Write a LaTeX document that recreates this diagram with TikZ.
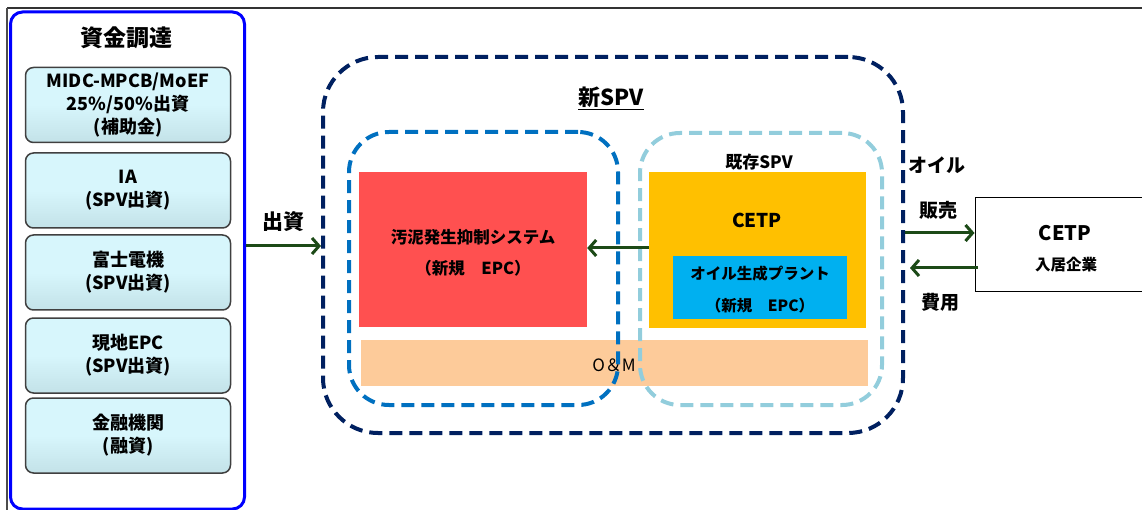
\documentclass[tikz,border=0pt]{standalone}
\usepackage{fontspec}
\setmainfont{Noto Sans CJK JP}
\usetikzlibrary{arrows.meta}
\definecolor{navy}{HTML}{002060}
\definecolor{mblue}{HTML}{0070C0}
\definecolor{tealb}{HTML}{92CDDC}
\definecolor{redb}{HTML}{FF5050}
\definecolor{orangeb}{HTML}{FFC000}
\definecolor{cyanb}{HTML}{00B0F0}
\definecolor{peach}{HTML}{FDCB9A}
\definecolor{cyanlt}{HTML}{D7F6FC}
\definecolor{cyanshade}{HTML}{C3E2E8}
\definecolor{agreen}{HTML}{1C4A17}
\definecolor{frameblue}{HTML}{0000FF}
\begin{document}
\begin{tikzpicture}[x=1pt,y=-1pt,
  fs/.style 2 args={font=\bfseries\fontsize{#1}{#2}\selectfont},
  lbl/.style={inner sep=0pt, align=center},
  srcbox/.style={draw=black!75, line width=1.5pt, rounded corners=8pt,
    top color=cyanlt, bottom color=cyanshade, middle color=cyanlt,
    minimum width=205pt, minimum height=75pt, align=center, inner sep=0pt,
    fs={18}{23}},
  fillbox/.style={inner sep=0pt, draw=none},
  dashbox/.style={line width=4pt, rounded corners=#1, dash pattern=on 13pt off 7pt, inner sep=0pt},
  arr/.style={draw=agreen, line width=3pt, -{Straight Barb[length=7pt,width=16pt]}},
]
\useasboundingbox (0,0) rectangle (1142,510);
% frame lines
\draw[line width=2pt, black!80] (7,8) -- (1142,8);
\draw[line width=1.5pt, black!70] (7,8) -- (7,512);

% funding side
\node[draw=frameblue, line width=3pt, rounded corners=12pt, minimum width=234pt, minimum height=497pt, inner sep=0pt] (fund) at (127.5,260.5) {};
\node[lbl, fs={23}{27}] (fundt) at (126,38) {資金調達};
\node[srcbox] (src1) at (128,105) {MIDC-MPCB/MoEF\\25\%/50\%出資\\(補助金)};
\node[srcbox] (src2) at (128,190.5) {IA\\(SPV出資)};
\node[srcbox] (src3) at (128,272.5) {富士電機\\(SPV出資)};
\node[srcbox] (src4) at (128,355.5) {現地EPC\\(SPV出資)};
\node[srcbox] (src5) at (128,435.5) {金融機関\\(融資)};

% filled boxes
\node[fillbox, fill=peach, minimum width=507pt, minimum height=46pt] (om) at (614.5,363) {};
\node[fillbox, fill=redb, minimum width=228pt, minimum height=155pt] (red) at (473,249.5) {};
\node[fillbox, fill=orangeb, minimum width=217pt, minimum height=156pt] (orange) at (757.5,250) {};
\node[fillbox, fill=cyanb, minimum width=174pt, minimum height=63pt] (plant) at (760,287.5) {};

% dashed containers
\node[dashbox=55pt, draw=navy, minimum width=580pt, minimum height=376pt] (spv) at (613,245) {};
\node[dashbox=40pt, draw=mblue, minimum width=269pt, minimum height=273pt] (newbox) at (483.5,268.5) {};
\node[dashbox=40pt, draw=tealb, minimum width=242pt, minimum height=272pt] (oldbox) at (761,269) {};

% texts
\node[lbl, fs={22}{26}] (spvt) at (611,98) {\underline{新SPV}};
\node[lbl, fs={17}{20}] (oldt) at (759,162) {既存SPV};
\node[lbl, fs={16.5}{31}] (redt) at (473,253) {汚泥発生抑制システム\\（新規　EPC）};
\node[lbl, fs={19}{22}] (cetpt) at (757,220) {CETP};
\node[lbl, fs={15.5}{32}] (plantt) at (760,290) {オイル生成プラント\\（新規　EPC）};
\node[lbl, font=\mdseries\fontsize{17}{20}\selectfont] (omt) at (614,365) {O＆M};

% right side
\node[draw=black, line width=1pt, fill=white, minimum width=185pt, minimum height=94pt, inner sep=0pt] (cetp) at (1067.5,245) {};
\node[lbl, fs={20}{24}] (cetpn) at (1065,233) {CETP};
\node[lbl, fs={15.5}{19}] (cetpk) at (1066,265) {入居企業};
\node[lbl, fs={19}{23}] (oil) at (937,165) {オイル};
\node[lbl, fs={19}{23}] (sale) at (938,210) {販売};
\node[lbl, fs={19}{23}] (cost) at (940,302) {費用};
\node[lbl, fs={21}{25}] (inv) at (283,222) {出資};

% connectors
\draw[arr] (fund.east |- 0,246) -- (spv.west |- 0,246);
\draw[arr] (orange.west |- 0,248) -- (red.east |- 0,248);
\draw[arr] (spv.east |- 0,233) -- (cetp.west |- 0,233);
\draw[arr, shorten >=5pt, shorten <=-3pt] (cetp.west |- 0,268) -- (spv.east |- 0,268);
\end{tikzpicture}
\end{document}
